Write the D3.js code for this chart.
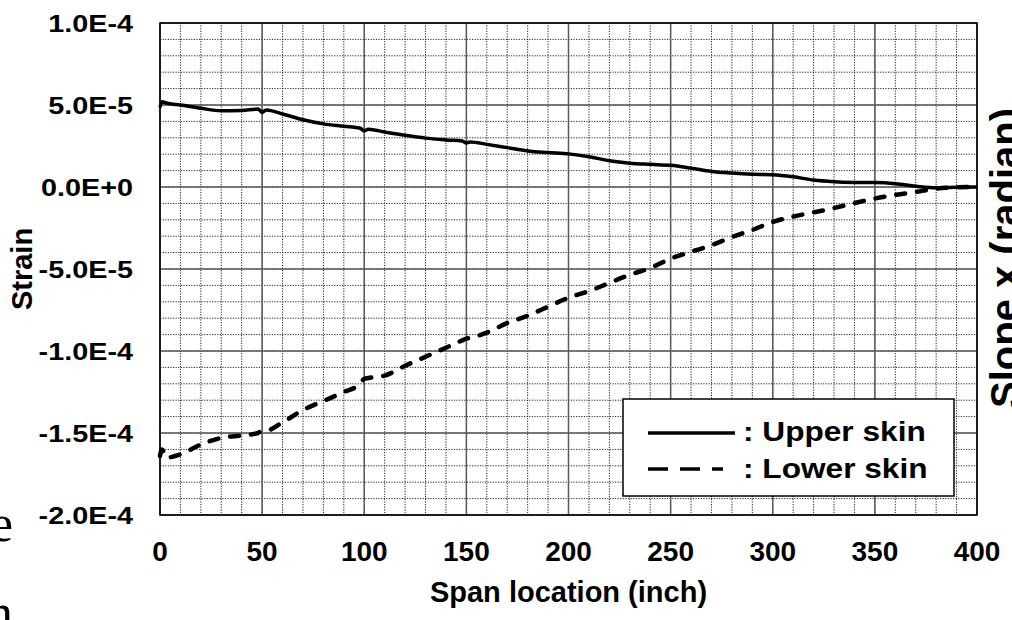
<!DOCTYPE html>
<html>
<head>
<meta charset="utf-8">
<script src="https://cdn.jsdelivr.net/npm/d3@7"></script>
<style>
  body { margin: 0; background: #fff; overflow: hidden; }
  svg { display: block; font-family: "Liberation Sans", Arial, sans-serif; font-weight: bold; }
</style>
</head>
<body>
<svg id="chart"></svg>
<script>
// Dades llegides de la figura (strain en unitats de 1E-5)
var spanX = [0, 1, 3, 10, 20, 30, 40, 48, 50, 52, 60, 70, 80, 90, 98, 100, 102, 110, 120, 130, 140, 148, 150, 152,
  160, 170, 180, 190, 200, 210, 220, 230, 240, 250, 260, 270, 280, 290, 300, 310, 320, 330, 340, 350, 360, 370, 380, 390, 400];
var upperSkin = [4.85, 5.2, 5.12, 5.0, 4.8, 4.65, 4.67, 4.75, 4.55, 4.7, 4.45, 4.1, 3.85, 3.7, 3.58, 3.42, 3.52, 3.35, 3.15, 2.98, 2.87, 2.8, 2.68, 2.75,
  2.6, 2.4, 2.2, 2.1, 2.02, 1.85, 1.6, 1.45, 1.38, 1.32, 1.15, 0.95, 0.85, 0.78, 0.75, 0.62, 0.42, 0.32, 0.28, 0.27, 0.2, 0.05, -0.05, -0.02, 0];
var lowerSkin = [-16.4, -16.0, -16.5, -16.3, -15.7, -15.3, -15.15, -15.0, -14.85, -14.85, -14.35, -13.6, -13.05, -12.5, -12.0, -11.7, -11.65, -11.5, -10.9, -10.35, -9.8, -9.35, -9.24, -9.2,
  -8.88, -8.3, -7.85, -7.3, -6.75, -6.35, -5.85, -5.35, -4.94, -4.37, -3.95, -3.55, -3.05, -2.62, -2.13, -1.8, -1.55, -1.28, -0.98, -0.7, -0.48, -0.3, -0.1, -0.02, 0];

var xTicks = [0, 50, 100, 150, 200, 250, 300, 350, 400];
var yTicks = [1e-4, 5e-5, 0, -5e-5, -1e-4, -1.5e-4, -2e-4];
var yTickLabels = ["1.0E-4", "5.0E-5", "0.0E+0", "-5.0E-5", "-1.0E-4", "-1.5E-4", "-2.0E-4"];
var legendLabels = [": Upper skin", ": Lower skin"];

// Dimensions
var width = 1012, height = 620;
var pLeft = 160, pRight = 977, pTop = 23, pBottom = 515;

var svg = d3.select("#chart").attr("width", width).attr("height", height);

var x = d3.scaleLinear().domain([0, 400]).range([pLeft, pRight]);
var y = d3.scaleLinear().domain([-2e-4, 1e-4]).range([pBottom, pTop]);

// Graella menor (puntejada)
var g = svg.append("g");
g.selectAll(".vminor").data(d3.range(0, 401, 10)).enter().append("line")
  .attr("x1", d => x(d)).attr("x2", d => x(d)).attr("y1", pTop).attr("y2", pBottom)
  .attr("stroke", "#222").attr("stroke-width", 1).attr("stroke-dasharray", "1.2,1.4");
g.selectAll(".hminor").data(d3.range(-20, 11, 1)).enter().append("line")
  .attr("x1", pLeft).attr("x2", pRight).attr("y1", d => y(d * 1e-5)).attr("y2", d => y(d * 1e-5))
  .attr("stroke", "#222").attr("stroke-width", 1).attr("stroke-dasharray", "1.2,1.4");

// Graella major
g.selectAll(".vmajor").data(xTicks).enter().append("line")
  .attr("x1", d => x(d)).attr("x2", d => x(d)).attr("y1", pTop).attr("y2", pBottom)
  .attr("stroke", "#5a5a5a").attr("stroke-width", 1.5);
g.selectAll(".hmajor").data(yTicks).enter().append("line")
  .attr("x1", pLeft).attr("x2", pRight).attr("y1", d => y(d)).attr("y2", d => y(d))
  .attr("stroke", "#5a5a5a").attr("stroke-width", 1.5);

// Marc
svg.append("rect").attr("x", pLeft).attr("y", pTop).attr("width", pRight - pLeft).attr("height", pBottom - pTop)
  .attr("fill", "none").attr("stroke", "#000").attr("stroke-width", 1.5);

// Línies
var line = d3.line().curve(d3.curveMonotoneX);
function pts(vals) { return spanX.map((d, i) => [x(d), y(vals[i] * 1e-5)]); }

svg.append("path").attr("d", line(pts(lowerSkin)))
  .attr("fill", "none").attr("stroke", "#000").attr("stroke-width", 4.5)
  .attr("stroke-linecap", "round").attr("stroke-dasharray", "9,12");
svg.append("path").attr("d", line(pts(upperSkin)))
  .attr("fill", "none").attr("stroke", "#000").attr("stroke-width", 3.5)
  .attr("stroke-linejoin", "round");

// Etiquetes eix Y
svg.selectAll(".ylab").data(yTicks).enter().append("text")
  .attr("transform", d => "translate(133," + y(d) + ") scale(1.2,1)")
  .attr("dy", "0.36em").attr("text-anchor", "end").attr("font-size", 24)
  .text((d, i) => yTickLabels[i]);

// Etiquetes eix X
svg.selectAll(".xlab").data(xTicks).enter().append("text")
  .attr("x", d => x(d)).attr("y", 561).attr("text-anchor", "middle").attr("font-size", 28)
  .text(d => d);

// Títols
svg.append("text").attr("x", (pLeft + pRight) / 2).attr("y", 602).attr("text-anchor", "middle")
  .attr("font-size", 29).text("Span location (inch)");
svg.append("text").attr("transform", "translate(32,269) rotate(-90)").attr("text-anchor", "middle")
  .attr("font-size", 29).text("Strain");
svg.append("text").attr("transform", "translate(1019,258) rotate(-90)").attr("text-anchor", "middle")
  .attr("font-size", 40).text("Slope  x (radian)");

// Fragments del text del document
svg.append("text").attr("x", 13).attr("y", 541).attr("text-anchor", "end")
  .attr("font-family", "Liberation Serif, Times New Roman, serif").attr("font-weight", "normal")
  .attr("font-size", 52).text("e");
svg.append("text").attr("x", 13).attr("y", 630).attr("text-anchor", "end")
  .attr("font-family", "Liberation Serif, Times New Roman, serif").attr("font-weight", "normal")
  .attr("font-size", 52).text("n");

// Llegenda
var leg = svg.append("g");
leg.append("rect").attr("x", 623).attr("y", 399).attr("width", 331).attr("height", 97)
  .attr("fill", "#fff").attr("stroke", "#000").attr("stroke-width", 1.5);
leg.append("line").attr("x1", 648).attr("x2", 735).attr("y1", 433).attr("y2", 433)
  .attr("stroke", "#000").attr("stroke-width", 3.5);
leg.append("line").attr("x1", 648).attr("x2", 723).attr("y1", 469).attr("y2", 469)
  .attr("stroke", "#000").attr("stroke-width", 3.5).attr("stroke-dasharray", "20,12");
leg.selectAll(".legtxt").data(legendLabels).enter().append("text")
  .attr("transform", (d, i) => "translate(743," + (441 + i * 36.5) + ") scale(1.13,1)")
  .attr("font-size", 28).text(d => d);
</script>
</body>
</html>
